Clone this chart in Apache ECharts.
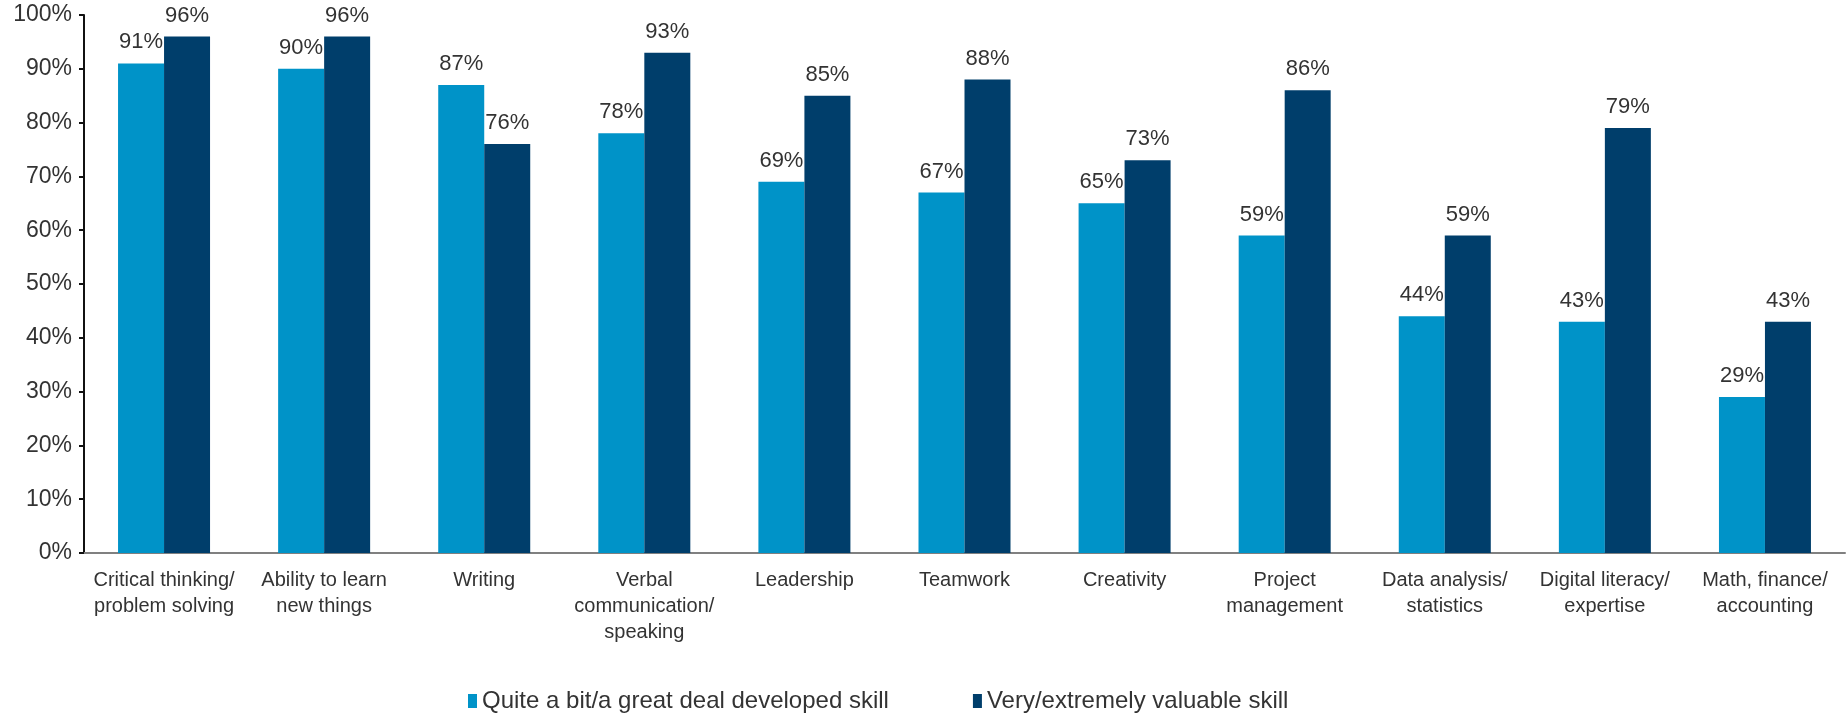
<!DOCTYPE html>
<html>
<head>
<meta charset="utf-8">
<script src="https://cdn.jsdelivr.net/npm/echarts@6/dist/echarts.min.js"></script>
<style>
  html, body { margin: 0; padding: 0; background: #fff; }
  #chart { width: 1846px; height: 719px; }
</style>
</head>
<body>
<div id="chart"></div>
<script>
var categories = [
    'Critical thinking/\nproblem solving',
    'Ability to learn\nnew things',
    'Writing',
    'Verbal\ncommunication/\nspeaking',
    'Leadership',
    'Teamwork',
    'Creativity',
    'Project\nmanagement',
    'Data analysis/\nstatistics',
    'Digital literacy/\nexpertise',
    'Math, finance/\naccounting'
];
var developed = [91, 90, 87, 78, 69, 67, 65, 59, 44, 43, 29];
var valuable = [96, 96, 76, 93, 85, 88, 73, 86, 59, 79, 43];
var seriesNames = ['Quite a bit/a great deal developed skill', 'Very/extremely valuable skill'];

var myChart = echarts.init(document.getElementById('chart'));
var font = 'Liberation Sans, Arial, sans-serif';

option = {
    animation: false,
    textStyle: { fontFamily: font },
    grid: {
        left: 84,
        right: 1,
        top: 15,
        bottom: 166,
        containLabel: false
    },
    legend: {
        data: seriesNames,
        left: 463,
        bottom: 1,
        itemWidth: 9,
        itemHeight: 14,
        itemGap: 84,
        icon: 'rect',
        textStyle: {
            fontSize: 24,
            color: '#333',
            fontFamily: font
        }
    },
    xAxis: {
        type: 'category',
        data: categories,
        axisLine: { lineStyle: { color: '#808080', width: 2 } },
        axisTick: { length: 7, lineStyle: { color: '#808080', width: 2 } },
        axisLabel: {
            interval: 0,
            margin: 14,
            fontSize: 20,
            lineHeight: 26,
            color: '#333'
        }
    },
    yAxis: {
        type: 'value',
        min: 0,
        max: 100,
        interval: 10,
        splitLine: { show: false },
        axisLine: { show: true, lineStyle: { color: '#111', width: 2 } },
        axisTick: { show: true, length: 5, lineStyle: { color: '#111', width: 2 } },
        axisLabel: {
            formatter: '{value}%',
            fontSize: 23,
            margin: 12,
            color: '#333'
        }
    },
    series: [
        {
            name: seriesNames[0],
            type: 'bar',
            data: developed,
            barWidth: 46,
            barGap: '0%',
            itemStyle: { color: '#0093c8' },
            label: {
                show: true,
                position: 'top',
                distance: 10,
                formatter: '{c}%',
                fontSize: 22,
                color: '#333'
            }
        },
        {
            name: seriesNames[1],
            type: 'bar',
            data: valuable,
            barWidth: 46,
            barGap: '0%',
            itemStyle: { color: '#003e6b' },
            label: {
                show: true,
                position: 'top',
                distance: 10,
                formatter: '{c}%',
                fontSize: 22,
                color: '#333'
            }
        }
    ]
};
myChart.setOption(option);
</script>
</body>
</html>
